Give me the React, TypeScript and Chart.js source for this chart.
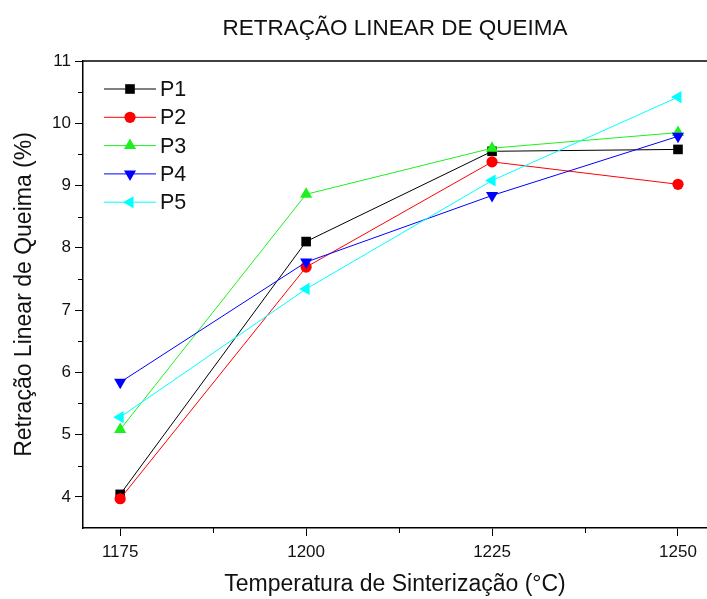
import React, { useEffect, useRef } from 'react';
import { Chart, registerables } from 'chart.js';

Chart.register(...registerables);

// Sintering temperature (°C) and linear firing shrinkage (%) per sample
const temperatures = [1175, 1200, 1225, 1250];
const p1 = [4.04, 8.1, 9.55, 9.58];
const p2 = [3.97, 7.69, 9.38, 9.02];
const p3 = [5.08, 8.86, 9.6, 9.85];
const p4 = [5.84, 7.77, 8.84, 9.79];
const p5 = [5.28, 7.34, 9.08, 10.42];
const seriesNames = ['P1', 'P2', 'P3', 'P4', 'P5'];

const xTicks = [1175, 1200, 1225, 1250];
const xMinorTicks = [1187.5, 1212.5, 1237.5];
const yTicks = [4, 5, 6, 7, 8, 9, 10, 11];
const yMinorTicks = [4.5, 5.5, 6.5, 7.5, 8.5, 9.5, 10.5];

const chartTitle = 'RETRAÇÃO LINEAR DE QUEIMA';
const xTitle = 'Temperatura de Sinterização (°C)';
const yTitle = 'Retração Linear de Queima (%)';

const FONT = '"Liberation Sans", Arial, sans-serif';
const W = 707;
const H = 599;

type Marker = { color: string; style: string; rotation: number; radius: number };
const markers: Marker[] = [
  { color: '#000000', style: 'rect', rotation: 0, radius: 6.8 },
  { color: '#ff0000', style: 'circle', rotation: 0, radius: 5.6 },
  { color: '#1ef01e', style: 'triangle', rotation: 0, radius: 7 },
  { color: '#0000ff', style: 'triangle', rotation: 180, radius: 7 },
  { color: '#00ffff', style: 'triangle', rotation: 270, radius: 7 },
];

function drawMarker(ctx: CanvasRenderingContext2D, m: Marker, x: number, y: number) {
  ctx.save();
  ctx.fillStyle = m.color;
  ctx.beginPath();
  if (m.style === 'rect') {
    const s = Math.SQRT1_2 * m.radius;
    ctx.rect(x - s, y - s, 2 * s, 2 * s);
  } else if (m.style === 'circle') {
    ctx.arc(x, y, m.radius, 0, Math.PI * 2);
  } else {
    const rad = (m.rotation * Math.PI) / 180;
    for (let k = 0; k < 3; k++) {
      const a = rad + (k * 2 * Math.PI) / 3;
      const px = x + Math.sin(a) * m.radius;
      const py = y - Math.cos(a) * m.radius;
      if (k === 0) ctx.moveTo(px, py);
      else ctx.lineTo(px, py);
    }
    ctx.closePath();
  }
  ctx.fill();
  ctx.restore();
}

// Title, frame top edge, minor ticks and the in-plot legend
const decorations = {
  id: 'decorations',
  afterDraw(chart: any) {
    const { ctx, chartArea, scales } = chart;
    const { left, right, top, bottom } = chartArea;
    ctx.save();

    ctx.fillStyle = '#111';
    ctx.font = `22.5px ${FONT}`;
    ctx.textAlign = 'center';
    ctx.textBaseline = 'middle';
    ctx.fillText(chartTitle, (left + right) / 2, 29);

    ctx.strokeStyle = '#000';
    ctx.lineWidth = 1.5;
    ctx.beginPath();
    ctx.moveTo(left, top);
    ctx.lineTo(right, top);
    ctx.stroke();

    ctx.lineWidth = 1;
    ctx.beginPath();
    for (const v of xMinorTicks) {
      const x = Math.round(scales.x.getPixelForValue(v)) + 0.5;
      ctx.moveTo(x, bottom);
      ctx.lineTo(x, bottom + 5);
    }
    for (const v of yMinorTicks) {
      const y = Math.round(scales.y.getPixelForValue(v)) + 0.5;
      ctx.moveTo(left, y);
      ctx.lineTo(left - 5, y);
    }
    ctx.stroke();

    ctx.font = `21.5px ${FONT}`;
    ctx.textAlign = 'left';
    ctx.textBaseline = 'middle';
    seriesNames.forEach((name, i) => {
      const m = markers[i];
      const y = top + 28 + i * 28.3;
      ctx.strokeStyle = m.color;
      ctx.lineWidth = 1;
      ctx.beginPath();
      ctx.moveTo(left + 21, y);
      ctx.lineTo(left + 73, y);
      ctx.stroke();
      drawMarker(ctx, m, left + 47, y);
      ctx.fillStyle = '#111';
      ctx.fillText(name, left + 77, y + 1);
    });

    ctx.restore();
  },
};

export default function App() {
  const canvasRef = useRef<HTMLCanvasElement | null>(null);

  useEffect(() => {
    const canvas = canvasRef.current;
    if (!canvas) return;
    const series = [p1, p2, p3, p4, p5];
    const chart = new Chart(canvas, {
      type: 'line',
      data: {
        datasets: series.map((values, i) => ({
          label: seriesNames[i],
          data: values.map((v, j) => ({ x: temperatures[j], y: v })),
          borderColor: markers[i].color,
          backgroundColor: markers[i].color,
          borderWidth: 1,
          pointStyle: markers[i].style as any,
          rotation: markers[i].rotation,
          pointRadius: markers[i].radius,
          pointBorderWidth: 0,
          tension: 0,
          fill: false,
          order: series.length - i,
        })),
      },
      options: {
        animation: false,
        responsive: false,
        layout: { autoPadding: false, padding: { top: 61, left: 0, right: 0, bottom: 0 } },
        plugins: {
          legend: { display: false },
          title: { display: false },
          tooltip: { enabled: false },
        },
        scales: {
          x: {
            type: 'linear',
            min: 1170,
            max: 1253.9,
            afterFit: (scale: any) => {
              scale.height = 71;
              scale.paddingLeft = 0;
              scale.paddingRight = 0;
            },
            afterBuildTicks: (scale: any) => {
              scale.ticks = xTicks.map((v) => ({ value: v }));
            },
            grid: {
              display: true,
              drawOnChartArea: false,
              drawTicks: true,
              tickLength: 8,
              color: '#000',
              lineWidth: 1,
            },
            border: { display: true, color: '#000', width: 1.5 },
            ticks: {
              color: '#111',
              font: { family: FONT, size: 17 },
              padding: 6,
              maxRotation: 0,
              callback: (v: any) => String(v),
            },
            title: {
              display: true,
              text: xTitle,
              color: '#111',
              font: { family: FONT, size: 23 },
              padding: { top: 0, bottom: 1 },
            },
          },
          y: {
            type: 'linear',
            min: 3.5,
            max: 11,
            afterFit: (scale: any) => {
              scale.width = 83;
              scale.paddingTop = 0;
              scale.paddingBottom = 0;
            },
            afterBuildTicks: (scale: any) => {
              scale.ticks = yTicks.map((v) => ({ value: v }));
            },
            grid: {
              display: true,
              drawOnChartArea: false,
              drawTicks: true,
              tickLength: 8,
              color: '#000',
              lineWidth: 1,
            },
            border: { display: true, color: '#000', width: 1.5 },
            ticks: {
              color: '#111',
              font: { family: FONT, size: 17 },
              padding: 4,
              callback: (v: any) => String(v),
            },
            title: {
              display: true,
              text: yTitle,
              color: '#111',
              font: { family: FONT, size: 23 },
              padding: { top: 11, bottom: 0 },
            },
          },
        },
      },
      plugins: [decorations],
    });
    return () => chart.destroy();
  }, []);

  return (
    <div style={{ position: 'fixed', left: 0, top: 0, width: W, height: H, background: '#fff' }}>
      <canvas ref={canvasRef} width={W} height={H} style={{ display: 'block' }} />
    </div>
  );
}
